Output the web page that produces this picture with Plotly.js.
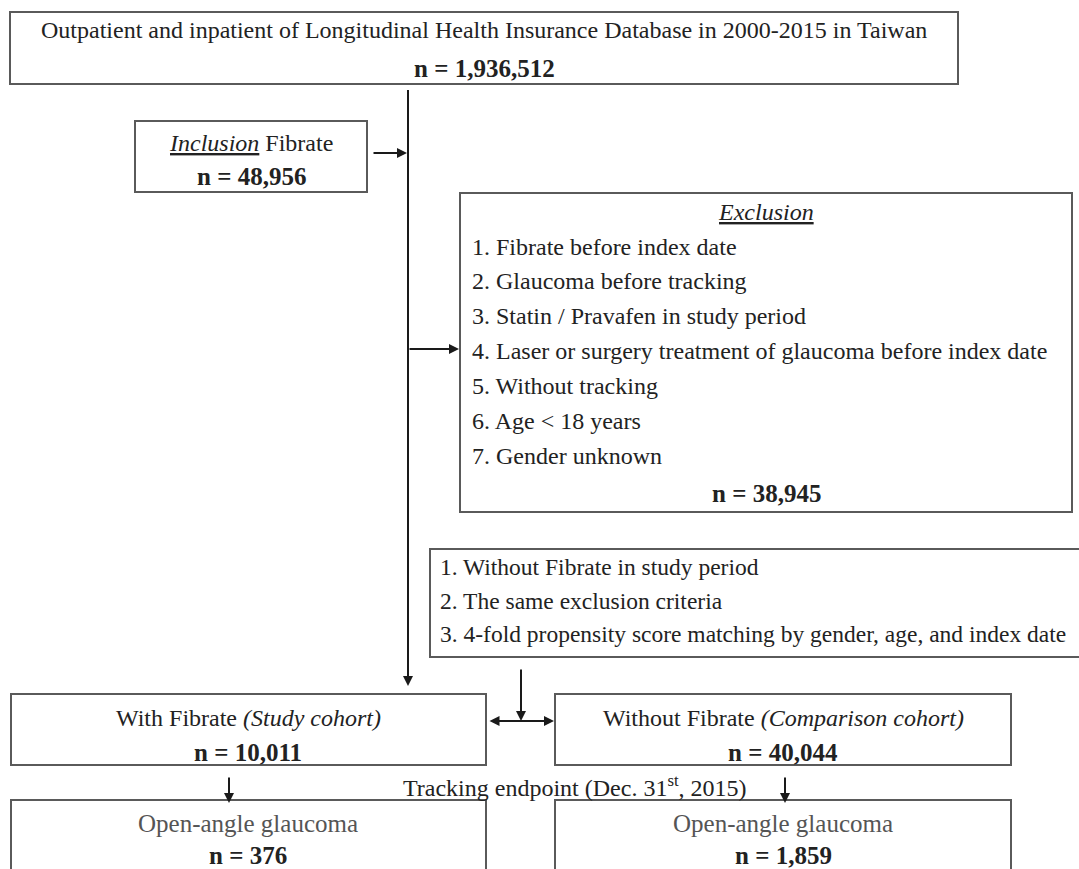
<!DOCTYPE html>
<html>
<head>
<meta charset="utf-8">
<script src="https://cdn.plot.ly/plotly-3.0.1.min.js"></script>
<style>html,body{margin:0;padding:0;background:#fff;}#chart{width:1079px;height:869px;}</style>
</head>
<body>
<div id="chart"></div>
<script>
// ---------- data ----------
const sourceTitle = "Outpatient and inpatient of Longitudinal Health Insurance Database in 2000-2015 in Taiwan";
const sourceCount = 1936512;
const inclusionLabel = ["Inclusion", "Fibrate"];
const inclusionCount = 48956;
const exclusionTitle = "Exclusion";
const exclusionCriteria = [
  "Fibrate before index date",
  "Glaucoma before tracking",
  "Statin / Pravafen in study period",
  "Laser or surgery treatment of glaucoma before index date",
  "Without tracking",
  "Age < 18 years",
  "Gender unknown"
];
const exclusionCount = 38945;
const matchingCriteria = [
  "Without Fibrate in study period",
  "The same exclusion criteria",
  "4-fold propensity score matching by gender, age, and index date"
];
const cohortNames = ["With Fibrate", "Without Fibrate"];
const cohortTags = ["Study cohort", "Comparison cohort"];
const cohortCounts = [10011, 40044];
const trackingLabel = ["Tracking endpoint (Dec. 31", "st", ", 2015)"];
const outcomeName = "Open-angle glaucoma";
const outcomeCounts = [376, 1859];

// ---------- layout geometry (pixel-like axis units) ----------
const FONT = "Liberation Serif, Times New Roman, serif";
const FS = 24;
const FSN = 25;
const TXT = "#222";
const BORDER = "#5a5a5a";
const LINE = "#1a1a1a";
const fmt = v => v.toLocaleString("en-US");

const boxes = [
  {x0: 10,  x1: 958,  y0: 12,  y1: 84},   // source
  {x0: 135, x1: 367,  y0: 121, y1: 192},  // inclusion
  {x0: 460, x1: 1072, y0: 193, y1: 512},  // exclusion
  {x0: 430, x1: 1095, y0: 549, y1: 657},  // matching
  {x0: 11,  x1: 486,  y0: 694, y1: 765},  // with
  {x0: 555, x1: 1011, y0: 694, y1: 765},  // without
  {x0: 11,  x1: 486,  y0: 800, y1: 890},  // outcome with
  {x0: 555, x1: 1011, y0: 800, y1: 890}   // outcome without
];

const shapes = boxes.map(b => ({
  type: "rect", xref: "x", yref: "y", x0: b.x0, x1: b.x1, y0: b.y0, y1: b.y1,
  line: {color: BORDER, width: 2}, fillcolor: "rgba(0,0,0,0)"
}));

const annotations = [];
function txt(x, y, text, opts) {
  annotations.push(Object.assign({
    x: x, y: y, xref: "x", yref: "y", text: text, showarrow: false,
    xanchor: "center", yanchor: "middle",
    font: {family: FONT, size: FS, color: TXT}
  }, opts || {}));
}
function nTxt(x, y, v) {
  txt(x, y, "<b>n = " + fmt(v) + "</b>", {font: {family: FONT, size: FSN, color: TXT}});
}
function arrow(x, y, ax, ay, side) {
  annotations.push({
    x: x, y: y, ax: ax, ay: ay, xref: "x", yref: "y", axref: "x", ayref: "y",
    text: "", showarrow: true, arrowhead: 2, arrowsize: 1, arrowwidth: 2,
    arrowcolor: LINE, standoff: 0, startstandoff: 0,
    arrowside: side || "end", startarrowhead: 2, startarrowsize: 1
  });
}

// source
txt(484, 30, sourceTitle);
nTxt(484, 68, sourceCount);
// inclusion
txt(251, 143, "<i><u>" + inclusionLabel[0] + "</u></i> " + inclusionLabel[1]);
nTxt(251, 176, inclusionCount);
// exclusion
txt(766, 212, "<i><u>" + exclusionTitle + "</u></i>");
const exY = [247, 281, 316, 351, 386, 421, 456];
exclusionCriteria.forEach((c, i) => txt(470, exY[i], (i + 1) + ". " + c, {xanchor: "left"}));
nTxt(766, 493, exclusionCount);
// matching
const mY = [567, 601, 634];
matchingCriteria.forEach((c, i) => txt(438, mY[i], (i + 1) + ". " + c,
  {xanchor: "left", font: {family: FONT, size: 23.5, color: TXT}}));
// cohorts
const cX = [248, 783];
cohortNames.forEach((n, i) => {
  txt(cX[i], 718, n + " <i>(" + cohortTags[i] + ")</i>");
  nTxt(cX[i], 752, cohortCounts[i]);
});
// tracking
txt(575, 786, trackingLabel[0] + "<sup>" + trackingLabel[1] + "</sup>" + trackingLabel[2]);
// outcomes
outcomeCounts.forEach((v, i) => {
  txt(cX[i], 823, outcomeName, {font: {family: FONT, size: 25, color: "#555"}});
  nTxt(cX[i], 855, v);
});

// connectors
shapes.push({type: "line", xref: "x", yref: "y", x0: 408, x1: 408, y0: 90, y1: 680, line: {color: LINE, width: 2}});
arrow(408, 686, 408, 660);
arrow(407, 153, 372, 153);
arrow(459, 349, 408, 349);
arrow(521, 721, 521, 668);
arrow(554, 721, 488, 721, "end+start");
arrow(229, 803, 229, 776);
arrow(785, 803, 785, 776);

const layout = {
  width: 1079, height: 869,
  margin: {l: 0, r: 0, t: 0, b: 0},
  paper_bgcolor: "#fff", plot_bgcolor: "#fff",
  xaxis: {range: [0, 1079], visible: false, fixedrange: true},
  yaxis: {range: [869, 0], visible: false, fixedrange: true},
  showlegend: false,
  shapes: shapes,
  annotations: annotations
};
Plotly.newPlot("chart", [], layout, {staticPlot: true, displayModeBar: false});
</script>
</body>
</html>
